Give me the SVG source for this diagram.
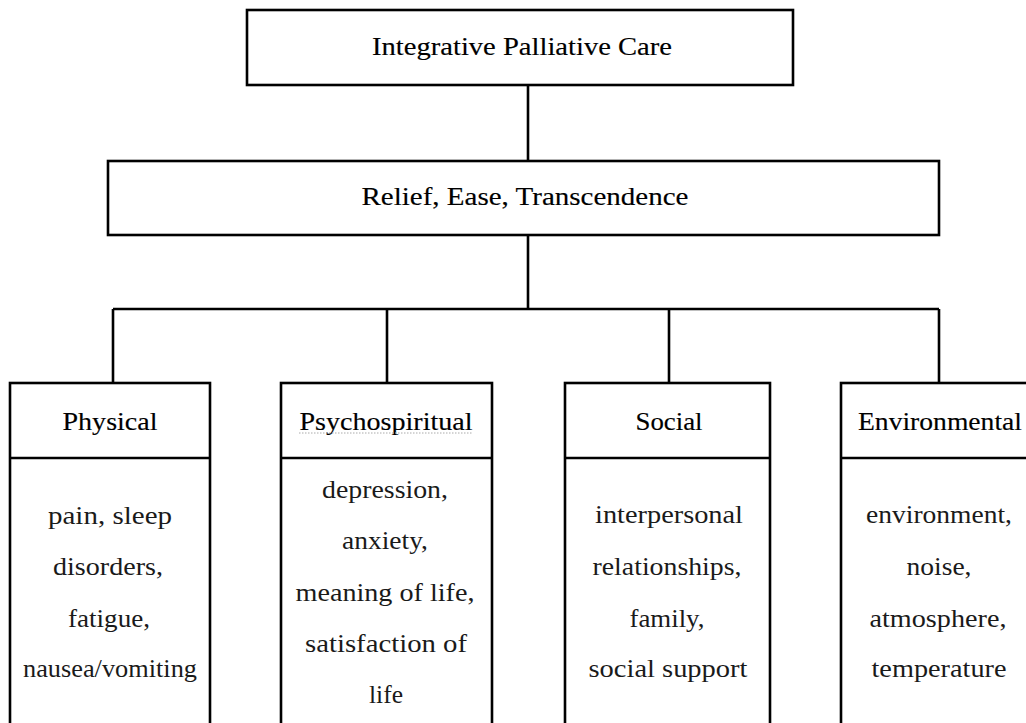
<svg xmlns="http://www.w3.org/2000/svg" width="1026" height="723" viewBox="0 0 1026 723">
  <style>
    .box { fill: #ffffff; stroke: #000000; stroke-width: 2.6; }
    .rule { stroke: #000000; stroke-width: 2.6; fill: none; }
    .conn { stroke: #000000; stroke-width: 2.6; fill: none; }
    .head { font-family: "Liberation Serif", "DejaVu Serif", serif; font-size: 25px; fill: #000000; stroke: #000000; stroke-width: 0.15; }
    .body { font-family: "Liberation Serif", "DejaVu Serif", serif; font-size: 26px; fill: #1a1a1a; }
  </style>
  <rect width="1026" height="723" fill="#ffffff"/>

  <!-- connectors -->
  <g id="connectors">
    <line class="conn" x1="528" y1="85" x2="528" y2="161"/>
    <line class="conn" x1="528" y1="235" x2="528" y2="309"/>
    <line class="conn" x1="113" y1="309" x2="939" y2="309"/>
    <line class="conn" x1="113" y1="309" x2="113" y2="383"/>
    <line class="conn" x1="387" y1="309" x2="387" y2="383"/>
    <line class="conn" x1="669" y1="309" x2="669" y2="383"/>
    <line class="conn" x1="939" y1="309" x2="939" y2="383"/>
  </g>

  <!-- root -->
  <g id="integrative-palliative-care">
    <rect class="box" x="247" y="10" width="546" height="75"/>
    <text class="head" x="522" y="55" text-anchor="middle" textLength="300" lengthAdjust="spacingAndGlyphs">Integrative Palliative Care</text>
  </g>

  <!-- outcomes -->
  <g id="relief-ease-transcendence">
    <rect class="box" x="108" y="161" width="831" height="74"/>
    <text class="head" x="525" y="205" text-anchor="middle" textLength="327" lengthAdjust="spacingAndGlyphs">Relief, Ease, Transcendence</text>
  </g>

  <!-- domain: physical -->
  <g id="physical">
    <rect class="box" x="10" y="383" width="200" height="360"/>
    <line class="rule" x1="10" y1="458" x2="210" y2="458"/>
    <text class="head" x="110" y="430" text-anchor="middle" textLength="95" lengthAdjust="spacingAndGlyphs">Physical</text>
    <text class="body" x="110" y="524" text-anchor="middle" textLength="124" lengthAdjust="spacingAndGlyphs">pain, sleep</text>
    <text class="body" x="108" y="575" text-anchor="middle" textLength="110" lengthAdjust="spacingAndGlyphs">disorders,</text>
    <text class="body" x="109" y="627" text-anchor="middle" textLength="82" lengthAdjust="spacingAndGlyphs">fatigue,</text>
    <text class="body" x="110" y="677" text-anchor="middle" textLength="174" lengthAdjust="spacingAndGlyphs">nausea/vomiting</text>
  </g>

  <!-- domain: psychospiritual -->
  <g id="psychospiritual">
    <rect class="box" x="281" y="383" width="211" height="360"/>
    <line class="rule" x1="281" y1="458" x2="492" y2="458"/>
    <text class="head" x="386" y="430" text-anchor="middle" textLength="173" lengthAdjust="spacingAndGlyphs">Psychospiritual</text>
    <line x1="299" y1="433" x2="472" y2="433" stroke="#aaaaaa" stroke-width="1" stroke-dasharray="1.5,1.5"/>
    <text class="body" x="385" y="498" text-anchor="middle" textLength="126" lengthAdjust="spacingAndGlyphs">depression,</text>
    <text class="body" x="385" y="549" text-anchor="middle" textLength="86" lengthAdjust="spacingAndGlyphs">anxiety,</text>
    <text class="body" x="385" y="601" text-anchor="middle" textLength="179" lengthAdjust="spacingAndGlyphs">meaning of life,</text>
    <text class="body" x="386" y="652" text-anchor="middle" textLength="162" lengthAdjust="spacingAndGlyphs">satisfaction of</text>
    <text class="body" x="386" y="703" text-anchor="middle" textLength="34" lengthAdjust="spacingAndGlyphs">life</text>
  </g>

  <!-- domain: social -->
  <g id="social">
    <rect class="box" x="565" y="383" width="205" height="360"/>
    <line class="rule" x1="565" y1="458" x2="770" y2="458"/>
    <text class="head" x="669" y="430" text-anchor="middle" textLength="67" lengthAdjust="spacingAndGlyphs">Social</text>
    <text class="body" x="669" y="523" text-anchor="middle" textLength="148" lengthAdjust="spacingAndGlyphs">interpersonal</text>
    <text class="body" x="667" y="575" text-anchor="middle" textLength="149" lengthAdjust="spacingAndGlyphs">relationships,</text>
    <text class="body" x="667" y="627" text-anchor="middle" textLength="75" lengthAdjust="spacingAndGlyphs">family,</text>
    <text class="body" x="668" y="677" text-anchor="middle" textLength="159" lengthAdjust="spacingAndGlyphs">social support</text>
  </g>

  <!-- domain: environmental -->
  <g id="environmental">
    <rect class="box" x="841" y="383" width="200" height="360"/>
    <line class="rule" x1="841" y1="458" x2="1041" y2="458"/>
    <text class="head" x="940" y="430" text-anchor="middle" textLength="164" lengthAdjust="spacingAndGlyphs">Environmental</text>
    <text class="body" x="939" y="523" text-anchor="middle" textLength="146" lengthAdjust="spacingAndGlyphs">environment,</text>
    <text class="body" x="939" y="575" text-anchor="middle" textLength="65" lengthAdjust="spacingAndGlyphs">noise,</text>
    <text class="body" x="938" y="627" text-anchor="middle" textLength="137" lengthAdjust="spacingAndGlyphs">atmosphere,</text>
    <text class="body" x="939" y="677" text-anchor="middle" textLength="135" lengthAdjust="spacingAndGlyphs">temperature</text>
  </g>
</svg>
